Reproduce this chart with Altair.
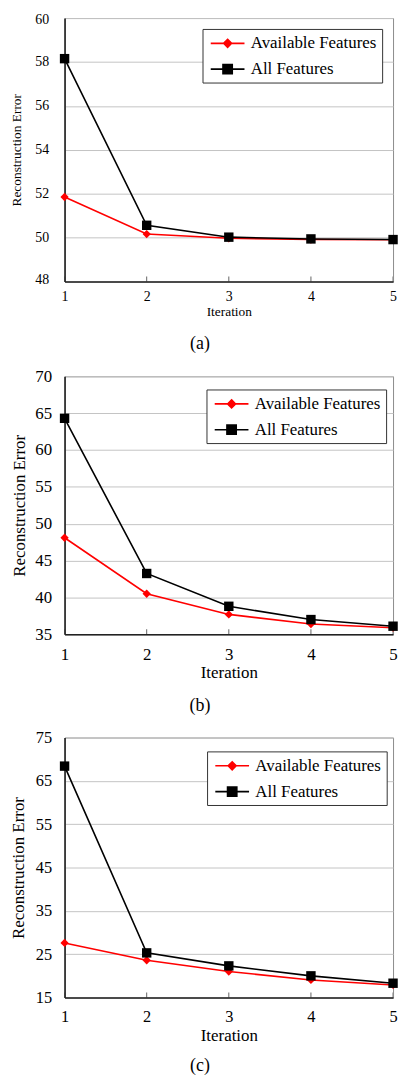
import altair as alt
import pandas as pd

iterations = [1, 2, 3, 4, 5]
series_names = ["Available Features", "All Features"]

a_available = [51.85, 50.16, 49.97, 49.91, 49.90]
a_all = [58.15, 50.56, 50.02, 49.94, 49.91]
b_available = [48.1, 40.5, 37.7, 36.4, 35.9]
b_all = [64.3, 43.25, 38.8, 37.0, 36.1]
c_available = [27.6, 23.6, 21.0, 19.05, 17.9]
c_all = [68.4, 25.3, 22.3, 20.0, 18.3]

a_ticks = [48, 50, 52, 54, 56, 58, 60]
b_ticks = [35, 40, 45, 50, 55, 60, 65, 70]
c_ticks = [15, 25, 35, 45, 55, 65, 75]
captions = ["(a)", "(b)", "(c)"]

FONT = "'Liberation Serif', 'Times New Roman', serif"
RED = "#ff0000"
BLACK = "#000000"
LEG_SHAPES = [
    "M-2,0H2M0,-0.47L0.47,0L0,0.47L-0.47,0Z",
    "M-2,0H2M-0.55,-0.55H0.55V0.55H-0.55Z",
]


def panel(avail, allf, ticks, caption, w, h, lab_fs, title_fs, ylab_pad,
          ytitle_x, xlab_pad, xtitle_pad, leg_x, leg_y, cap_dx, cap_offset,
          flush=False, flush_offset=0):
    df = pd.DataFrame({
        "Iteration": iterations * 2,
        "value": avail + allf,
        "series": [series_names[0]] * 5 + [series_names[1]] * 5,
    })
    base = alt.Chart(df)
    x = alt.X(
        "Iteration:Q",
        scale=alt.Scale(domain=[iterations[0], iterations[-1]], nice=False, zero=False),
        axis=alt.Axis(values=iterations, format="d", title="Iteration", grid=False,
                      tickSize=0, labelPadding=xlab_pad, titlePadding=xtitle_pad,
                      labelFontSize=lab_fs, titleFontSize=title_fs, labelFlush=False,
                      labelFont=FONT, titleFont=FONT, titleFontWeight="normal"),
    )
    y = alt.Y(
        "value:Q",
        scale=alt.Scale(domain=[ticks[0], ticks[-1]], nice=False, zero=False),
        axis=alt.Axis(values=ticks, title="Reconstruction Error", grid=True,
                      tickSize=0, labelPadding=ylab_pad, titleX=ytitle_x,
                      titleBaseline="bottom", labelFlush=flush,
                      labelFlushOffset=flush_offset,
                      labelFontSize=lab_fs, titleFontSize=title_fs,
                      labelFont=FONT, titleFont=FONT, titleFontWeight="normal"),
    )
    tick_df = pd.DataFrame({"Iteration": iterations})
    ticks_layer = alt.Chart(tick_df).mark_tick(
        orient="vertical", clip=True, size=10, thickness=1, color="#222222"
    ).encode(x=alt.X("Iteration:Q"), y=alt.value(h))

    layers = [ticks_layer]
    styles = [
        (series_names[0], RED, "diamond", 70),
        (series_names[1], BLACK, "square", 90),
    ]
    for name, color, shape, size in styles:
        src = base.transform_filter(alt.datum.series == name)
        layers.append(src.mark_line(color=color, strokeWidth=1.6).encode(x=x, y=y))
    for name, color, shape, size in styles:
        src = base.transform_filter(alt.datum.series == name)
        layers.append(src.mark_point(shape=shape, filled=True, color=color,
                                     size=size, opacity=1).encode(x=x, y=y))

    legend = alt.Legend(
        title=None, orient="none", legendX=leg_x, legendY=leg_y,
        strokeColor="#333333", fillColor="white", padding=5,
        labelFont=FONT, labelFontSize=17, labelColor="black",
        symbolSize=289, symbolStrokeWidth=1.6, symbolOffset=10.8,
        labelOffset=13.8, rowPadding=8,
    )
    leg_layer = base.transform_filter("false").mark_point(filled=True, opacity=1).encode(
        x=x, y=y,
        fill=alt.Fill("series:N", scale=alt.Scale(domain=series_names, range=[RED, BLACK]), legend=legend),
        stroke=alt.Stroke("series:N", scale=alt.Scale(domain=series_names, range=[RED, BLACK]), legend=legend),
        shape=alt.Shape("series:N", scale=alt.Scale(domain=series_names, range=LEG_SHAPES), legend=legend),
    )
    layers.append(leg_layer)
    return alt.layer(*layers).properties(
        width=w, height=h,
        title=alt.TitleParams(caption, orient="bottom", font=FONT, fontSize=18,
                              fontWeight="normal", color="black", anchor="middle",
                              frame="group", dx=cap_dx, offset=cap_offset),
    )


pa = panel(a_available, a_all, a_ticks, captions[0], 331, 265.5, 14, 13.5, 16, -40.9, 8, 1,
           139, 11, -29, 17.5, flush=True, flush_offset=5)
pb = panel(b_available, b_all, b_ticks, captions[1], 331, 260, 17, 17, 13, -36.7, 12, 3,
           143, 13.3, -29, 16)
pc = panel(c_available, c_all, c_ticks, captions[2], 331, 262, 16.5, 17, 13, -37.7, 11, 3,
           143.6, 14, -29, 14)

chart = alt.vconcat(pa, pb, pc, spacing=13).resolve_scale(
    x="independent", y="independent", fill="independent", stroke="independent",
    shape="independent",
).resolve_legend(fill="independent", stroke="independent", shape="independent").properties(
    padding={"left": 0, "top": 0, "right": 0, "bottom": 0}
).configure_view(stroke="#8c8c8c", strokeWidth=1).configure_axis(
    labelFont=FONT, titleFont=FONT, labelColor="black", titleColor="black",
    titleFontWeight="normal", domainColor="#222222", domainWidth=1.6,
    gridColor="#c4c4c4", gridWidth=1,
)

chart.save("out.html", embed_options={"renderer": "svg", "actions": False})
